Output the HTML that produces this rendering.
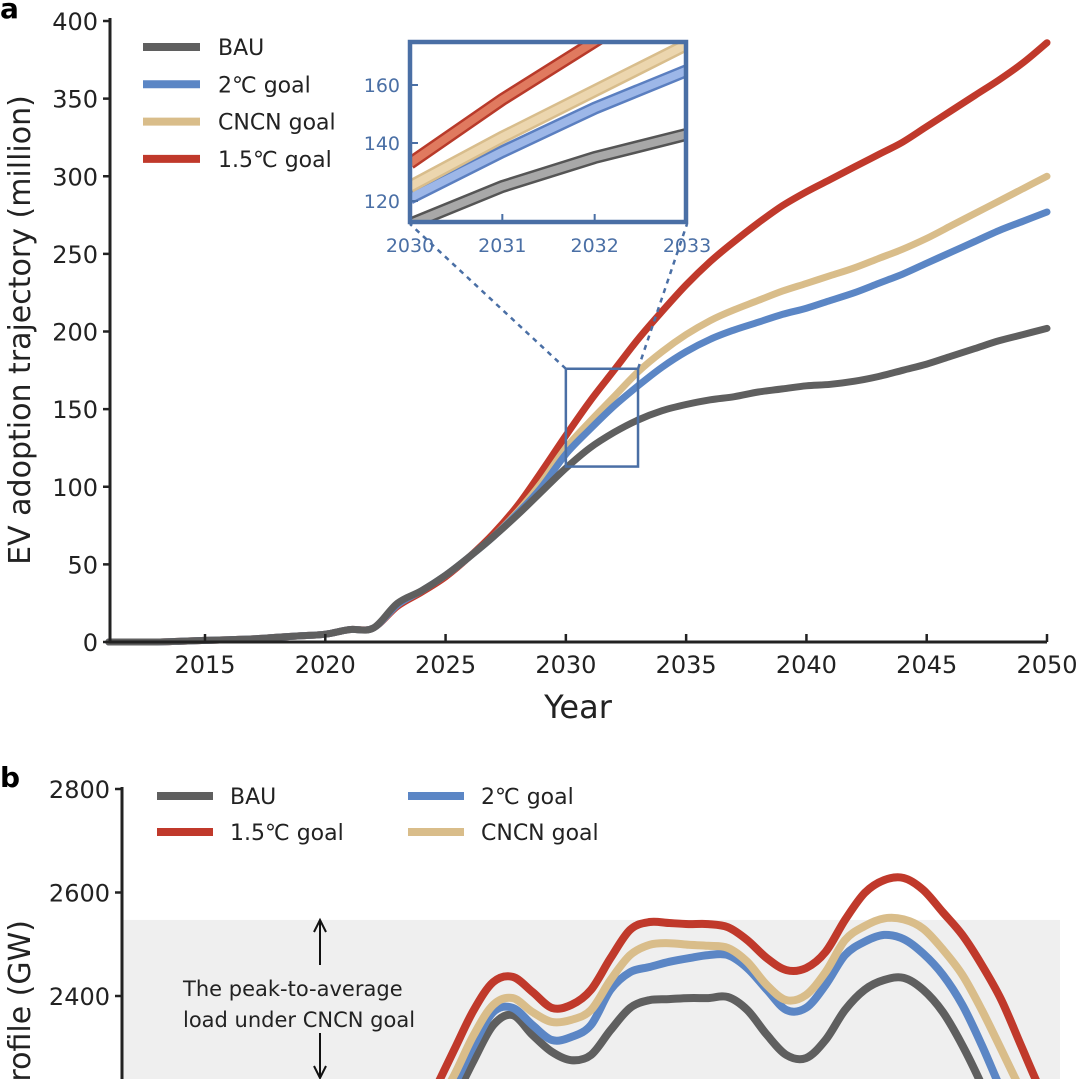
<!DOCTYPE html>
<html><head><meta charset="utf-8"><style>
html,body{margin:0;padding:0;background:#fff;width:1080px;height:1079px;overflow:hidden;}
svg{display:block;font-family:"DejaVu Sans","Liberation Sans",sans-serif;}
</style></head><body>
<svg id="chart" width="1080" height="1079" viewBox="0 0 1080 1079" xmlns="http://www.w3.org/2000/svg">
<defs><clipPath id="insetClip"><rect x="410" y="42" width="276" height="180"/></clipPath>
<clipPath id="bClip"><rect x="122" y="760" width="958" height="319"/></clipPath>
<clipPath id="pageClip"><rect x="0" y="0" width="1080" height="1079"/></clipPath></defs>
<g id="pa"></g>
<g id="pb" clip-path="url(#pageClip)"></g>
</svg>
<script>
const years=[2011,2012,2013,2014,2015,2016,2017,2018,2019,2020,2021,2022,2023,2024,2025,2026,2027,2028,2029,2030,2031,2032,2033,2034,2035,2036,2037,2038,2039,2040,2041,2042,2043,2044,2045,2046,2047,2048,2049,2050];
const early=[0,0,0,0.5,1,1.5,2,3,4,5,8,9];
const bauA=early.concat([25,33,43,55,68,82,97,112,125,135,143,149,153,156,158,161,163,165,166,168,171,175,179,184,189,194,198,202]);
const c2A=early.concat([24,33,43,55,68,83,100,121,137,152,165,177,187,195,201,206,211,215,220,225,231,237,244,251,258,265,271,277]);
const cncnA=early.concat([24,33,43,55,68,84,103,125,142,158,174,187,198,207,214,220,226,231,236,241,247,253,260,268,276,284,292,300]);
const c15A=early.concat([23,32,42,55,70,88,110,133,155,175,195,213,230,245,258,270,281,290,298,306,314,322,332,342,352,362,373,386]);
const xTicksA=[2015,2020,2025,2030,2035,2040,2045,2050];
const yTicksA=[0,50,100,150,200,250,300,350,400];
const insetX=[2030,2031,2032,2033];
const insetY=[120,140,160];

const hours=[8,8.5,9,9.5,10,10.5,11,11.5,12,12.5,13,13.5,14,14.5,15,15.5,16,16.5,17,17.5,18,18.5,19,19.5,20,20.5,21,21.5,22,22.5,23,23.5,24];
const c15B=[2218,2296,2373,2427,2437,2408,2377,2383,2412,2473,2528,2543,2541,2539,2539,2533,2508,2473,2450,2454,2485,2547,2599,2624,2628,2605,2562,2518,2460,2392,2305,2218,2141];
const cncnB=[2180,2247,2325,2383,2396,2369,2350,2354,2373,2431,2479,2499,2502,2499,2497,2493,2466,2421,2392,2402,2446,2508,2535,2550,2548,2530,2490,2441,2373,2296,2218,2141,2064];
const c2B=[2160,2228,2305,2369,2377,2344,2315,2321,2344,2412,2446,2456,2466,2473,2479,2479,2454,2412,2373,2377,2421,2479,2505,2518,2510,2482,2441,2383,2305,2218,2141,2064,1986];
const bauB=[2122,2199,2276,2344,2363,2325,2292,2276,2286,2334,2377,2392,2394,2396,2396,2398,2373,2325,2286,2280,2315,2373,2412,2431,2435,2412,2369,2305,2228,2141,2064,1986,1909];
const yTicksB=[2400,2600,2800];

const NS="http://www.w3.org/2000/svg";
function mk(tag,attrs,parent,text){const e=document.createElementNS(NS,tag);for(const k in attrs)e.setAttribute(k,attrs[k]);if(text!==undefined)e.textContent=text;parent.appendChild(e);return e;}
const COL={bau:"#5f5f5f",c2:"#5b86c5",cncn:"#d9bd8a",c15:"#c0392b"};
const pa=document.getElementById('pa'), pb=document.getElementById('pb');

const xA=y=>205+(y-2015)*(1047-205)/35;
const yA=v=>642-v*(642-21)/400;
function pathD(xs,vs,fx,fy){return xs.map((x,i)=>(i?'L':'M')+fx(x).toFixed(1)+','+fy(vs[i]).toFixed(1)).join(' ');}
function smoothD(xs,vs,fx,fy){
  const p=xs.map((x,i)=>[fx(x),fy(vs[i])]);
  let d='M'+p[0][0].toFixed(1)+','+p[0][1].toFixed(1);
  for(let i=0;i<p.length-1;i++){
    const p0=p[i-1]||p[i],p1=p[i],p2=p[i+1],p3=p[i+2]||p2;
    const c1=[p1[0]+(p2[0]-p0[0])/6,p1[1]+(p2[1]-p0[1])/6];
    const c2=[p2[0]-(p3[0]-p1[0])/6,p2[1]-(p3[1]-p1[1])/6];
    d+=` C${c1[0].toFixed(1)},${c1[1].toFixed(1)} ${c2[0].toFixed(1)},${c2[1].toFixed(1)} ${p2[0].toFixed(1)},${p2[1].toFixed(1)}`;
  }
  return d;
}

let t=mk('text',{x:0,y:18,'font-size':28,'font-weight':'bold'},pa,'a');


const seriesA=[['bau',bauA],['c2',c2A],['cncn',cncnA],['c15',c15A]];
seriesA.slice().reverse().forEach(([k,v])=>{
  const p=mk('path',{d:smoothD(years,v,xA,yA),fill:'none',stroke:COL[k],'stroke-width':7,'stroke-linejoin':'round','stroke-linecap':'round'},pa);
  
  
});
let ax=mk('path',{d:`M110,18 L110,642 L1047,642`,fill:'none',stroke:'#222','stroke-width':3},pa);


yTicksA.forEach(v=>{
  mk('line',{x1:103,x2:110,y1:yA(v),y2:yA(v),stroke:'#222','stroke-width':2.5},pa);
  const l=mk('text',{x:98,y:yA(v)+9,'font-size':24,'text-anchor':'end',fill:'#222'},pa,String(v));
  
  
});
xTicksA.forEach(v=>{
  mk('line',{x1:xA(v),x2:xA(v),y1:642,y2:634,stroke:'#222','stroke-width':2.5},pa);
  const l=mk('text',{x:xA(v),y:673,'font-size':24,'text-anchor':'middle',fill:'#222'},pa,String(v));
  
  
});
t=mk('text',{x:578,y:718,'font-size':32,'text-anchor':'middle',fill:'#222'},pa,'Year');


t=mk('text',{x:0,y:0,'font-size':30,'text-anchor':'middle',fill:'#222',transform:'translate(30,330) rotate(-90)'},pa,'EV adoption trajectory (million)');


const legA=[['bau','BAU'],['c2','2℃ goal'],['cncn','CNCN goal'],['c15','1.5℃ goal']];
legA.forEach(([k,lab],i)=>{
  const y=47+i*37.3;
  const g=mk('g',{},pa);
  
  
  mk('line',{x1:143,x2:200,y1:y,y2:y,stroke:COL[k],'stroke-width':8},g);
  mk('text',{x:218,y:y+8,'font-size':22,fill:'#222'},g,lab);
});
const bx1=xA(2030),bx2=xA(2033),by1=yA(176),by2=yA(113);
let zb=mk('rect',{x:bx1,y:by1,width:bx2-bx1,height:by2-by1,fill:'none',stroke:'#4a6fa5','stroke-width':2.5},pa);


mk('line',{x1:bx1,y1:by1,x2:410,y2:224,stroke:'#4a6fa5','stroke-width':2.5,'stroke-dasharray':'5,5'},pa);
mk('line',{x1:bx2,y1:by1,x2:687,y2:224,stroke:'#4a6fa5','stroke-width':2.5,'stroke-dasharray':'5,5'},pa);
const ix=y=>410+(y-2030)*(687-410)/3;
const iy=v=>201-(v-120)*58/20;
const ins=mk('g',{},pa);


mk('rect',{x:408,y:40,width:280,height:184,fill:'#fff'},ins);
const light={bau:'#a8a8a8',c2:'#9db7e8',cncn:'#ecd6ae',c15:'#e07a5f'};
const dark={bau:'#555',c2:'#5b7fc0',cncn:'#d8bd8c',c15:'#b83a2a'};
const ig=mk('g',{'clip-path':'url(#insetClip)'},ins);
seriesA.forEach(([k,v])=>{
  const vs=insetX.map(yr=>v[years.indexOf(yr)]);
  const d=pathD(insetX,vs,ix,iy);
  const p=mk('path',{d:d,fill:'none',stroke:dark[k],'stroke-width':13},ig);
  
  
  mk('path',{d:d,fill:'none',stroke:light[k],'stroke-width':8},ig);
});
mk('rect',{x:410,y:42,width:276,height:180,fill:'none',stroke:'#4a6fa5','stroke-width':4.5},ins);
insetY.forEach(v=>{
  mk('line',{x1:410,x2:418,y1:iy(v),y2:iy(v),stroke:'#4a6fa5','stroke-width':2},ins);
  const l=mk('text',{x:400,y:iy(v)+7,'font-size':19,'text-anchor':'end',fill:'#4a6fa5'},ins,String(v));
  
  
});
insetX.forEach(v=>{
  mk('line',{x1:ix(v),x2:ix(v),y1:222,y2:214,stroke:'#4a6fa5','stroke-width':2},ins);
  const l=mk('text',{x:ix(v),y:252,'font-size':19,'text-anchor':'middle',fill:'#4a6fa5'},ins,String(v));
  
  
});

const xB=h=>122+h*(1060-122)/24;
const yB=v=>789+(2800-v)*103.5/200;
t=mk('text',{x:0,y:787,'font-size':28,'font-weight':'bold'},pb,'b');


let band=mk('rect',{x:122,y:yB(2547),width:938,height:1079-yB(2547),fill:'#efefef'},pb);


const bg=mk('g',{'clip-path':'url(#bClip)'},pb);
[['bau',bauB],['c2',c2B],['cncn',cncnB],['c15',c15B]].forEach(([k,v])=>{
  const p=mk('path',{d:smoothD(hours,v,xB,yB),fill:'none',stroke:COL[k],'stroke-width':8,'stroke-linejoin':'round'},bg);
  
  
});
ax=mk('line',{x1:122,x2:122,y1:787,y2:1079,stroke:'#222','stroke-width':3},pb);


yTicksB.forEach(v=>{
  mk('line',{x1:115,x2:122,y1:yB(v),y2:yB(v),stroke:'#222','stroke-width':2.5},pb);
  const l=mk('text',{x:110,y:yB(v)+9,'font-size':24,'text-anchor':'end',fill:'#222'},pb,String(v));
  
  
});
t=mk('text',{x:0,y:0,'font-size':30,'text-anchor':'end',fill:'#222',transform:'translate(30,920) rotate(-90)'},pb,'EV load profile (GW)');


const legB=[['bau','BAU',157,796],['c2','2℃ goal',408,796],['c15','1.5℃ goal',157,832],['cncn','CNCN goal',408,832]];
legB.forEach(([k,lab,x,y])=>{
  const g=mk('g',{},pb);
  
  
  mk('line',{x1:x,x2:x+56,y1:y,y2:y,stroke:COL[k],'stroke-width':8},g);
  mk('text',{x:x+73,y:y+8,'font-size':22,fill:'#222'},g,lab);
});
const ann=mk('g',{},pb);


mk('line',{x1:320,x2:320,y1:922,y2:965,stroke:'#111','stroke-width':2},ann);
mk('path',{d:'M314,932 L320,920 L326,932',fill:'none',stroke:'#111','stroke-width':2},ann);
mk('line',{x1:320,x2:320,y1:1033,y2:1078,stroke:'#111','stroke-width':2},ann);
mk('path',{d:'M314,1066 L320,1078 L326,1066',fill:'none',stroke:'#111','stroke-width':2},ann);
mk('text',{x:183,y:996,'font-size':21,fill:'#222'},ann,'The peak-to-average');
mk('text',{x:183,y:1027,'font-size':21,fill:'#222'},ann,'load under CNCN goal');
</script>
</body></html>
